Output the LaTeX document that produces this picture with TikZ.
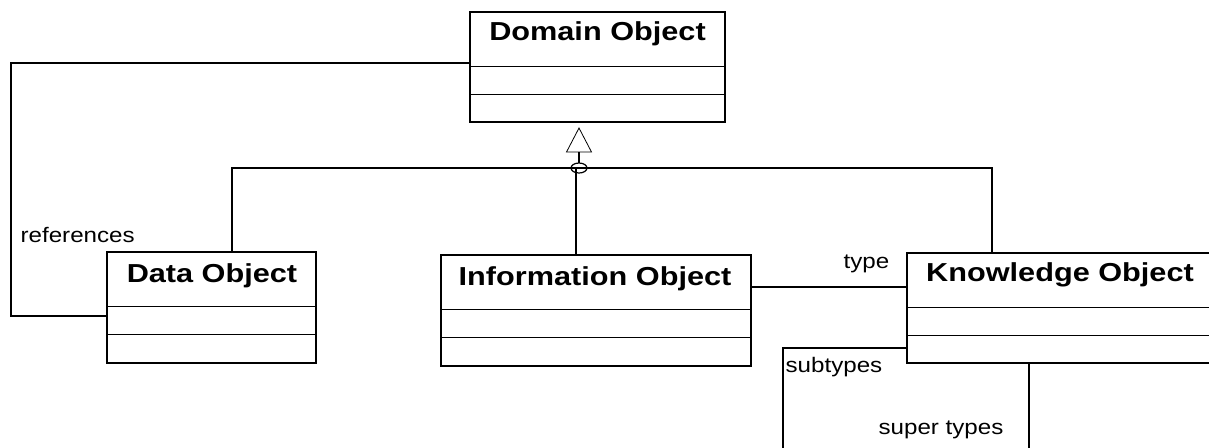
\documentclass[tikz,border=0pt]{standalone}
\usepackage{fontspec}
\setmainfont{Liberation Sans}
\begin{document}
\begin{tikzpicture}[x=0.5pt,y=-0.5pt,line width=0.6pt,
  classbox/.style={draw,rectangle,inner sep=0pt},
  titletext/.style={inner sep=0pt,anchor=base,font=\fontsize{13pt}{15pt}\selectfont\bfseries},
  roletext/.style={inner sep=0pt,anchor=base west,font=\fontsize{10.5pt}{12pt}\selectfont}]
\useasboundingbox (0,0) rectangle (1209,447);
\clip (0,0) rectangle (1209,447);
% class boxes
\node[classbox,minimum width=127.5pt,minimum height=55pt] (dom) at (597.5,67) {};
\node[classbox,minimum width=104.5pt,minimum height=55.5pt] (data) at (211.5,307.5) {};
\node[classbox,minimum width=155pt,minimum height=55.5pt] (info) at (596,310.5) {};
\node[classbox,minimum width=153pt,minimum height=55pt] (ko) at (1060,308) {};
% compartments
\foreach \n in {dom,data,info,ko}{
  \draw ([yshift=-27.5pt]\n.north west) -- ([yshift=-27.5pt]\n.north east);
  \draw ([yshift=-41.5pt]\n.north west) -- ([yshift=-41.5pt]\n.north east);
}
% titles
\node[titletext] (domt) at (597.5,40) {\scalebox{1.18}[1]{Domain Object}};
\node[titletext] (datat) at (212,282) {\scalebox{1.18}[1]{Data Object}};
\node[titletext] (infot) at (595,285) {\scalebox{1.18}[1]{Information Object}};
\node[titletext] (kot) at (1060,281) {\scalebox{1.18}[1]{Knowledge Object}};
% generalization
\coordinate (tri) at (579,128);
\coordinate (hub) at (579,168);
\draw[line width=0.4pt] (tri) -- ++(-6.25pt,-12pt) -- ++(12.5pt,0) -- cycle;
\draw ([yshift=-12pt]tri) -- ([yshift=2.5pt]hub);
\draw (hub) ellipse (4pt and 2.5pt);
\draw ([xshift=10.25pt]data.north) |- ([xshift=-34pt]ko.north |- hub) -- ([xshift=-34pt]ko.north);
\draw ([xshift=-10pt]info.north) -- ([xshift=-10pt]info.north |- hub);
% references
\draw ([yshift=2pt]dom.west) -| (11,200) |- ([yshift=-4.25pt]data.west);
\node[roletext] (reflabel) at (20,242) {\scalebox{1.15}[1]{references}};
% type
\draw ([yshift=11.75pt]info.east) -- ([yshift=11.75pt]info.east -| ko.west);
\node[roletext] (typelabel) at (843,268) {\scalebox{1.15}[1]{type}};
% sub/super types
\coordinate (subend) at (783,450);
\coordinate (supend) at (1029,450);
\draw ([yshift=-20pt]ko.west) -| (subend);
\draw ([xshift=-15.5pt]ko.south) -- (supend);
\node[roletext] (sublabel) at (785,372) {\scalebox{1.15}[1]{subtypes}};
\node[roletext] (suplabel) at (878,434) {\scalebox{1.15}[1]{super types}};
\end{tikzpicture}
\end{document}
